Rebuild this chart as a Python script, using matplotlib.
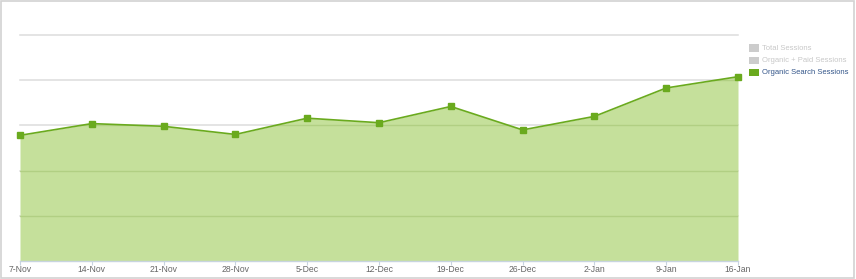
import matplotlib
matplotlib.use("Agg")
from matplotlib import pyplot as plt
from matplotlib.patches import Rectangle

plt.rcParams['font.family'] = ['Liberation Sans', 'DejaVu Sans']

weeks = ['7-Nov', '14-Nov', '21-Nov', '28-Nov', '5-Dec', '12-Dec',
         '19-Dec', '26-Dec', '2-Jan', '9-Jan', '16-Jan']
organic_search = [139, 152, 149, 140, 158, 153, 171, 145, 160, 191.5, 204]
legend_labels = ['Total Sessions', 'Organic + Paid Sessions', 'Organic Search Sessions']
legend_active = [False, False, True]

fig = plt.figure(figsize=(8.56, 2.79), dpi=100)
fig.patches.append(Rectangle((0.001, 0.002), 0.997, 0.995, transform=fig.transFigure,
                             fill=False, edgecolor='#d2d2d2', linewidth=1.2))

ax = fig.add_axes([20 / 856, 18.3 / 279, 718 / 856, 225.5 / 279])
x = list(range(len(weeks)))

fill = ax.fill_between(x, organic_search, 0, color='#c5e09b', linewidth=0, zorder=1)
for v in [50, 100, 150, 200, 250]:
    ax.axhline(v, color='#dcdcdc', linewidth=1.1, zorder=0, clip_on=False)
    g = ax.axhline(v, color='#a9c97a', linewidth=1.0, alpha=0.7, zorder=1.5)
    g.set_clip_path(fill.get_paths()[0], ax.transData)

ax.plot(x, organic_search, color='#6aaa1e', linewidth=1.2, marker='s',
        markersize=4.5, markerfacecolor='#6aaa1e', markeredgecolor='#6aaa1e',
        zorder=3, clip_on=False)

ax.set_xlim(0, len(weeks) - 1)
ax.set_ylim(0, 250)
ax.set_xticks(x)
ax.set_xticklabels(weeks, fontsize=6.2, color='#666666')
ax.set_yticks([])
ax.tick_params(axis='x', length=3, color='#c8d4e0', pad=0)
for s in ['top', 'right', 'left']:
    ax.spines[s].set_visible(False)
ax.spines['bottom'].set_color('#c8d4e0')
ax.spines['bottom'].set_linewidth(1.0)
ax.patch.set_alpha(0)

# legend
rows_y = [48, 60.5, 72.5]
for lbl, active, yp in zip(legend_labels, legend_active, rows_y):
    fy = 1 - yp / 279
    col = '#6aaa1e' if active else '#cccccc'
    fig.patches.append(Rectangle((749 / 856, fy - 3.5 / 279), 10 / 856, 7 / 279,
                                 transform=fig.transFigure, facecolor=col,
                                 edgecolor='none'))
    fig.text(762 / 856, fy, lbl, fontsize=5.5, va='center', ha='left',
             color='#34568a' if active else '#c8c8c8')

fig.savefig('out.png', dpi=100)
